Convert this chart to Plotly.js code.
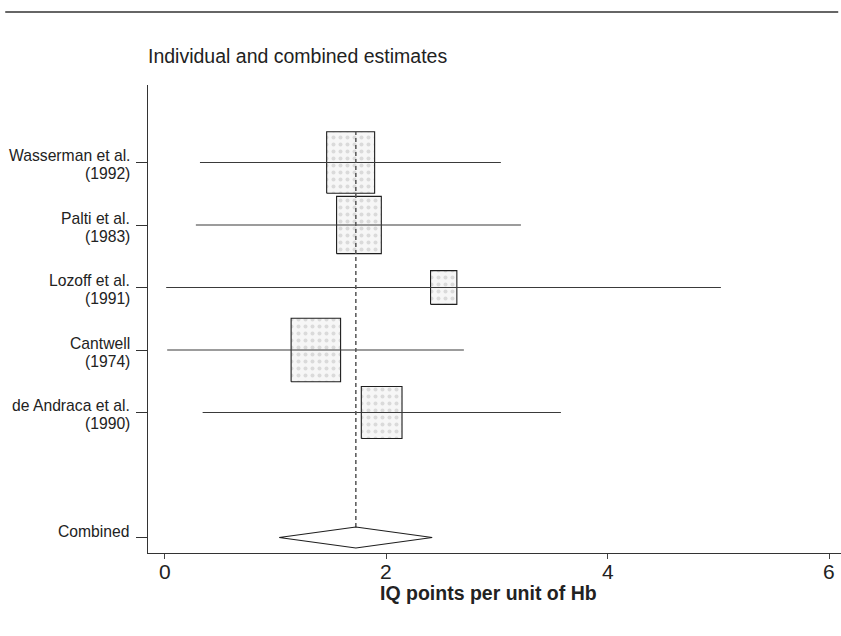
<!DOCTYPE html>
<html>
<head>
<meta charset="utf-8">
<script src="https://cdn.plot.ly/plotly-3.0.1.min.js"></script>
<style>
  html, body { margin: 0; padding: 0; background: #fff; }
  #chart { width: 841px; height: 636px; }
</style>
</head>
<body>
<div id="chart"></div>
<script>
// Studies (top to bottom) and their row positions on the y axis
const studies = ["Wasserman et al.", "Palti et al.", "Lozoff et al.", "Cantwell", "de Andraca et al."];
const years = ["(1992)", "(1983)", "(1991)", "(1974)", "(1990)"];
const rows = [7, 6, 5, 4, 3];

// Effect estimates (IQ points per unit of Hb) with 95% limits
const estimate = [1.68, 1.755, 2.52, 1.366, 1.96];
const lower = [0.32, 0.283, 0.015, 0.024, 0.344];
const upper = [3.036, 3.217, 5.022, 2.702, 3.578];
// Relative study weights (%)
const weights = [25.3, 22.0, 7.6, 26.9, 18.2];

// Pooled estimate
const combinedLabel = "Combined";
const combinedRow = 1;
const combinedEst = 1.727;
const combinedLower = 1.035;
const combinedUpper = 2.416;

const xTicks = [0, 2, 4, 6];

const FONT = "Liberation Sans, Arial, Helvetica, sans-serif";
const INK = "#222";

// box side grows with sqrt(weight); boxes are drawn taller than wide
const sideScale = 0.0861;
const heightPerWidth = 2.27;
const diamondHalf = 0.168;

const traces = [];

// weighted boxes
estimate.forEach((e, i) => {
  const w = sideScale * Math.sqrt(weights[i]);
  const h = w * heightPerWidth;
  const y = rows[i];
  traces.push({
    type: "scatter", mode: "lines", fill: "toself",
    x: [e - w / 2, e + w / 2, e + w / 2, e - w / 2, e - w / 2],
    y: [y - h / 2, y - h / 2, y + h / 2, y + h / 2, y - h / 2],
    line: { color: "#1e1e1e", width: 1.1 },
    fillcolor: "#f5f5f5",
    fillpattern: { shape: ".", bgcolor: "#f6f6f6", fgcolor: "#dadada", size: 7, solidity: 0.25 },
    hoverinfo: "skip", showlegend: false
  });
});

// confidence intervals
const ciX = [], ciY = [];
rows.forEach((y, i) => { ciX.push(lower[i], upper[i], null); ciY.push(y, y, null); });
traces.push({
  type: "scatter", mode: "lines", x: ciX, y: ciY,
  line: { color: "#3a3a3a", width: 1.2 },
  hoverinfo: "skip", showlegend: false
});

// dashed reference line at the pooled estimate
const topBox = sideScale * Math.sqrt(weights[0]) * heightPerWidth / 2;
traces.push({
  type: "scatter", mode: "lines",
  x: [combinedEst, combinedEst],
  y: [combinedRow + diamondHalf, rows[0] + topBox],
  line: { color: "#555", width: 1.5, dash: "4px,3px" },
  hoverinfo: "skip", showlegend: false
});

// pooled diamond
traces.push({
  type: "scatter", mode: "lines", fill: "toself", fillcolor: "#fff",
  x: [combinedLower, combinedEst, combinedUpper, combinedEst, combinedLower],
  y: [combinedRow, combinedRow + diamondHalf, combinedRow, combinedRow - diamondHalf, combinedRow],
  line: { color: "#1e1e1e", width: 1.1 },
  hoverinfo: "skip", showlegend: false
});

const labelFont = { family: FONT, size: 15.7, color: INK };

// row labels: name at the tick, year just below
const annotations = [];
studies.forEach((s, i) => {
  annotations.push({
    xref: "paper", yref: "y", x: 0, y: rows[i], xanchor: "right", yanchor: "middle",
    xshift: -16, yshift: 7, text: s, showarrow: false, font: labelFont
  });
  annotations.push({
    xref: "paper", yref: "y", x: 0, y: rows[i], xanchor: "right", yanchor: "middle",
    xshift: -16, yshift: -11, text: years[i], showarrow: false, font: labelFont
  });
});
annotations.push({
  xref: "paper", yref: "y", x: 0, y: combinedRow, xanchor: "right", yanchor: "middle",
  xshift: -16, yshift: 6.5, text: combinedLabel, showarrow: false, font: labelFont
});
// x tick labels, set close under the short ticks
xTicks.forEach(t => {
  annotations.push({
    xref: "x", yref: "paper", x: t, y: 0, xanchor: "center", yanchor: "middle",
    yshift: -18, text: String(t), showarrow: false,
    font: { family: FONT, size: 21, color: INK }
  });
});
// panel subtitle
annotations.push({
  xref: "paper", yref: "paper", x: 0, y: 1.062, xanchor: "left", yanchor: "middle",
  xshift: -2, text: "Individual and combined estimates", showarrow: false,
  font: { family: FONT, size: 19.5, color: INK }
});
// x axis title
annotations.push({
  xref: "paper", yref: "paper", x: 0.492, y: -0.086, xanchor: "center", yanchor: "middle",
  text: "<b>IQ points per unit of Hb</b>", showarrow: false,
  font: { family: FONT, size: 19.5, color: INK }
});

const layout = {
  width: 841, height: 636,
  margin: { l: 148, r: 0, t: 85, b: 83 },
  paper_bgcolor: "#fff", plot_bgcolor: "#fff",
  font: { family: FONT, color: INK },
  showlegend: false,
  xaxis: {
    range: [-0.149, 6.106], tickvals: xTicks, showticklabels: false,
    ticks: "outside", ticklen: 5, tickcolor: "#444", tickwidth: 1,
    showline: true, linecolor: "#333", linewidth: 1.2,
    showgrid: false, zeroline: false
  },
  yaxis: {
    range: [0.752, 8.24], tickvals: rows.concat([combinedRow]), showticklabels: false,
    ticks: "outside", ticklen: 11, tickcolor: "#333", tickwidth: 1,
    showline: true, linecolor: "#333", linewidth: 1.2,
    showgrid: false, zeroline: false
  },
  shapes: [{
    type: "line", xref: "paper", yref: "paper",
    x0: -0.206, x1: 0.996, y0: 1.156, y1: 1.156,
    line: { color: "#333", width: 1.5 }
  }],
  annotations: annotations
};

Plotly.newPlot("chart", traces, layout, { displayModeBar: false, staticPlot: true });
</script>
</body>
</html>
